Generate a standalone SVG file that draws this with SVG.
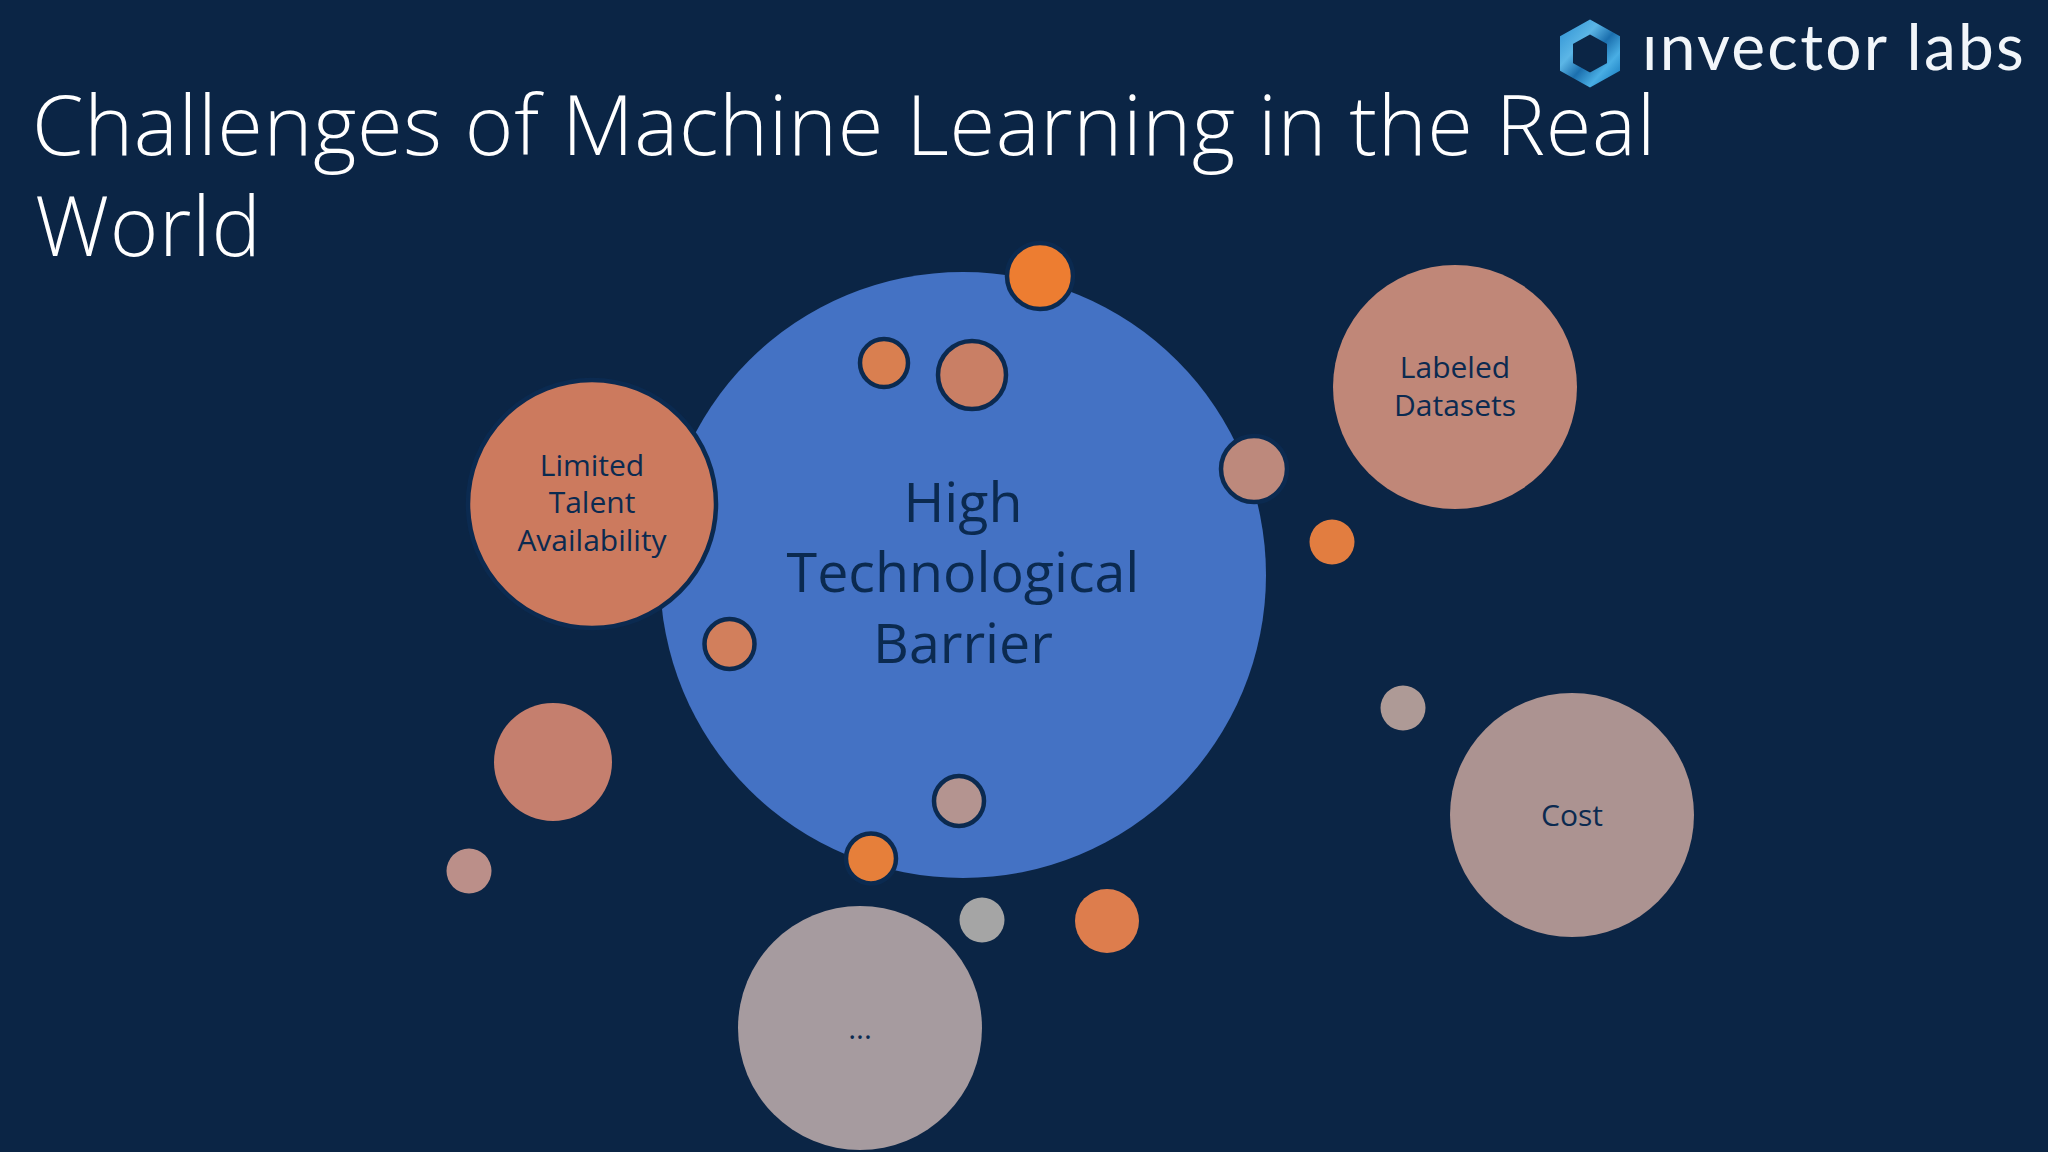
<svg xmlns="http://www.w3.org/2000/svg" width="2048" height="1152" viewBox="0 0 2048 1152">
<defs>
<linearGradient id="hex" x1="0" y1="0" x2="1" y2="1"><stop offset="0" stop-color="#3a9bd8"/><stop offset="0.3" stop-color="#5cb6e6"/><stop offset="0.55" stop-color="#1b6fae"/><stop offset="0.8" stop-color="#49aee4"/><stop offset="1" stop-color="#2388c8"/></linearGradient>
</defs>
<style>
.t{font-family:"Open Sans","Noto Sans",sans-serif;fill:#0b2a50;text-anchor:middle}
.s{font-size:30px}
.b{font-size:55.5px}
.ttl{font-family:"Open Sans","Noto Sans",sans-serif;font-weight:300;font-size:83px;fill:#ffffff;letter-spacing:0.66px}
.e{stroke:#0b2a50;stroke-width:4.5}
</style>
<rect width="2048" height="1152" fill="#0b2545"/>
<g id="logo">
<polygon points="1590,27 1613.5,40 1613.5,67 1590,80 1566.5,67 1566.5,40" fill="none" stroke="url(#hex)" stroke-width="13"/>
<text x="1642" y="70" font-family="Lato,sans-serif" font-size="64" fill="#f2f6fa" letter-spacing="2.25">ınvector labs</text>
</g>
<text class="ttl" x="32" y="155">Challenges of Machine Learning in the Real</text>
<text class="ttl" x="35" y="256">World</text>
<g id="connectors"></g>
<g id="main"><circle cx="963" cy="575" r="303" fill="#4472c4"/>
<text class="t b" x="963" y="522">High</text>
<text class="t b" x="963" y="592">Technological</text>
<text class="t b" x="963" y="663">Barrier</text></g>
<g id="limited"><circle class="e" cx="592" cy="504" r="124" fill="#cc7a5e"/>
<text class="t s" x="592" y="476">Limited</text><text class="t s" x="592" y="513">Talent</text><text class="t s" x="592" y="551">Availability</text></g>
<g id="labeled"><circle cx="1455" cy="387" r="122" fill="#c08778"/>
<text class="t s" x="1455" y="378">Labeled</text><text class="t s" x="1455" y="416">Datasets</text></g>
<g id="cost"><circle cx="1572" cy="815" r="122" fill="#ac9391"/>
<text class="t s" x="1572" y="826">Cost</text></g>
<g id="more"><circle cx="860" cy="1028" r="122" fill="#a69b9f"/>
<text class="t s" x="860" y="1039">...</text></g>
<g id="d1"><circle class="e" cx="1040" cy="276" r="33" fill="#ed7d31"/></g>
<g id="d2"><circle class="e" cx="884" cy="363" r="24" fill="#d97f50"/></g>
<g id="d3"><circle class="e" cx="972" cy="375" r="34" fill="#c97f65"/></g>
<g id="d4"><circle class="e" cx="1254" cy="469" r="33" fill="#bd897c"/></g>
<g id="d5"><circle cx="1332" cy="542" r="22.5" fill="#e27d40"/></g>
<g id="d6"><circle cx="1403" cy="708" r="22.5" fill="#ae9a96"/></g>
<g id="d7"><circle class="e" cx="729.5" cy="644" r="25" fill="#d27f5c"/></g>
<g id="d8"><circle cx="553" cy="762" r="59" fill="#c57f6e"/></g>
<g id="d9"><circle cx="469" cy="871" r="22.5" fill="#bb8f89"/></g>
<g id="d10"><circle class="e" cx="959" cy="801" r="25" fill="#b49490"/></g>
<g id="d11"><circle class="e" cx="871" cy="858.5" r="25" fill="#e67f3a"/></g>
<g id="d12"><circle cx="982" cy="920" r="22.5" fill="#a5a5a5"/></g>
<g id="d13"><circle cx="1107" cy="921" r="32" fill="#dd7d4d"/></g>
</svg>
